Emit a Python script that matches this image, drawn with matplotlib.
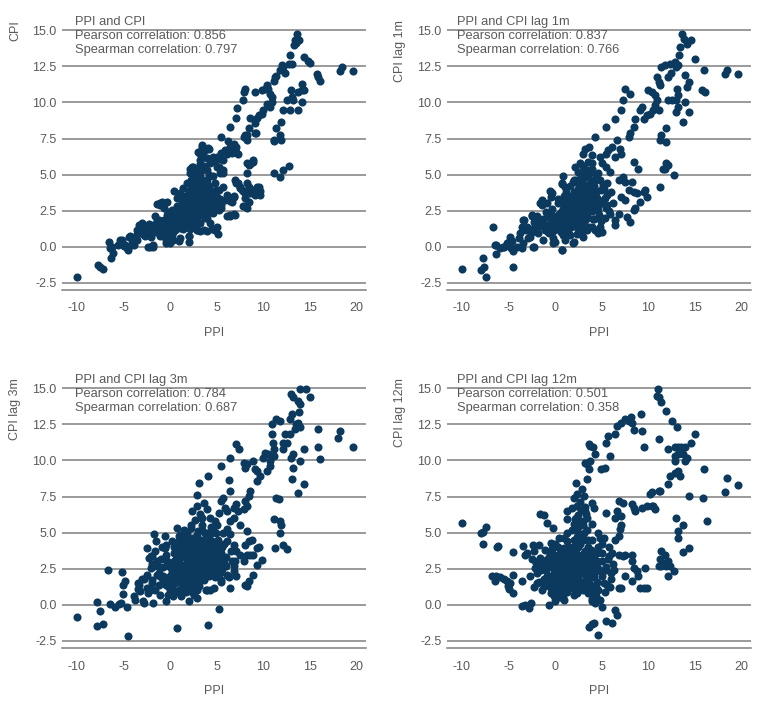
import matplotlib
matplotlib.use("Agg")
import matplotlib.pyplot as plt

# PPI vs CPI
pts_cpi = [
    (-10, -2.1), (-7.75, -1.27), (-7.5, -1.4), (-7.25, -1.57),
    (-6.6, 0.36), (-6.4, -0.1), (-6.25, 0.0), (-6.1, -0.45), (-6.35, -0.76),
    (-5.6, 0.1), (-5.4, 0.48), (-5.2, 0.45), (-4.9, 0.05), (-4.8, 0.13), (-4.6, -0.1),
    (-4.5, -0.25), (-4.4, 0.65), (-4.3, 0.71), (-4.2, 0.1), (-4.1, 0.48), (-3.9, 0.13),
    (-3.6, 1.17), (-3.6, 0.48), (-3.6, 0.9), (-3.3, 1.5), (-3.2, 0.94), (-3.0, 1.27), (-3.0, 1.63),
    (-2.9, 1.4), (-2.8, 0.8), (-2.7, 0.71), (-2.5, 1.15), (-2.5, 0.94), (-2.4, 0.0), (-2.3, 1.6),
    (-2.15, 1.17), (-2.15, 0.0), (-2.1, 0.7), (-1.9, 1.27), (-1.8, 1.52), (-1.8, 0.13),
    (-1.8, 0.0), (-1.6, 2.1), (-1.6, 1.17), (-1.4, 2.95), (-1.4, 1.86), (-1.25, 1.85),
    (-1.25, 1.52), (-1.1, 2.9), (-1.1, 3.0), (-1.1, 0.71), (-0.9, 3.1), (-0.9, 1.17),
    (-0.7, 1.15), (-0.7, 2.67), (-0.7, 1.86), (-0.5, 0.7), (-0.5, 0.25), (-0.5, 0.48),
    (-0.36, 3.13), (-0.36, 1.63), (-0.36, 1.06), (-0.2, 0.35), (-0.2, 2.44), (0.0, 0.25),
    (0.0, 1.4), (0.18, 1.98), (0.2, 0.5), (0.2, 0.83), (0.2, 2.56), (0.35, 0.45),
    (0.36, 3.83), (0.5, 1.17), (0.5, 1.86), (0.7, 2.79), (0.7, 3.36), (0.9, 0.4),
    (0.9, 2.33), (1.1, 0.6), (1.1, 3.7), (1.1, 1.98), (1.1, 1.29), (1.25, 3.0),
    (1.4, 4.06), (1.4, 1.86), (1.6, 3.48), (1.6, 2.2), (1.6, 1.4), (1.8, 4.4), (1.8, 2.56),
    (2.0, 0.35), (2.0, 0.75), (2.0, 0.71), (2.0, 2.79), (2.0, 3.83), (2.1, 5.4), (2.1, 5.1),
    (2.1, 1.63), (2.1, 3.36), (2.3, 5.56), (2.3, 2.9), (2.5, 5.5), (2.5, 2.1), (2.5, 3.94),
    (2.5, 4.6), (2.5, 1.86), (2.7, 5.2), (2.7, 2.67), (2.85, 1.17), (2.85, 3.48), (2.9, 1.15),
    (2.9, 5.1), (3.0, 6.6), (3.0, 2.2), (3.2, 1.1), (3.2, 6.45), (3.2, 6.0), (3.2, 4.87),
    (3.2, 1.63), (3.2, 4.4), (3.2, 3.13), (3.2, 2.44), (3.2, 5.75), (3.4, 7.06), (3.4, 6.9),
    (3.6, 1.15), (3.6, 6.2), (3.6, 2.56), (3.6, 3.94), (3.6, 3.36), (3.75, 6.7), (3.9, 1.1),
    (3.9, 6.14), (3.9, 4.6), (3.9, 3.0), (3.9, 3.71), (3.9, 2.0), (3.9, 5.3), (4.1, 6.83),
    (4.2, 6.8), (4.3, 5.79), (4.3, 6.0), (4.3, 1.63), (4.3, 3.25), (4.3, 3.94), (4.3, 2.56),
    (4.5, 1.2), (4.6, 4.87), (4.6, 6.2), (4.6, 2.33), (4.6, 3.71), (4.8, 1.15), (4.8, 5.9),
    (4.8, 4.4), (4.8, 1.17), (4.8, 2.9), (5.0, 1.4), (5.0, 6.25), (5.0, 5.5), (5.0, 3.48),
    (5.1, 0.9), (5.2, 5.56), (5.2, 3.94), (5.2, 2.56), (5.35, 5.1), (5.4, 6.1), (5.4, 5.3),
    (5.5, 7.64), (5.5, 6.48), (5.5, 2.9), (5.7, 5.33), (5.7, 6.0), (5.7, 4.17), (5.7, 5.1),
    (5.9, 6.7), (5.9, 3.25), (6.1, 6.45), (6.1, 2.1), (6.1, 3.6), (6.25, 7.3), (6.4, 8.3),
    (6.4, 6.9), (6.4, 6.6), (6.4, 2.2), (6.4, 3.2), (6.4, 2.1), (6.6, 6.48), (6.6, 3.1),
    (6.8, 7.06), (6.8, 7.15), (6.8, 2.3), (6.8, 3.5), (6.8, 3.48), (6.8, 6.6), (7.0, 4.6),
    (7.0, 2.2), (7.1, 8.9), (7.1, 6.6), (7.1, 6.9), (7.1, 4.4), (7.2, 9.6), (7.3, 6.45),
    (7.3, 4.4), (7.5, 4.15), (7.5, 4.06), (7.7, 3.9), (7.8, 10.2), (7.85, 3.83), (7.85, 2.8),
    (7.9, 10.7), (7.9, 7.6), (7.9, 3.8), (8.0, 10.9), (8.0, 7.75), (8.0, 2.8), (8.0, 3.35),
    (8.2, 7.4), (8.2, 2.65), (8.2, 5.1), (8.2, 4.4), (8.2, 5.79), (8.2, 7.75), (8.4, 8.2),
    (8.4, 4.15), (8.4, 5.65), (8.5, 3.1), (8.6, 8.9), (8.6, 3.7), (8.6, 5.75), (8.75, 3.9),
    (8.9, 3.7), (8.9, 6.0), (8.9, 5.9), (9.1, 8.55), (9.1, 3.6), (9.1, 10.7), (9.1, 7.87),
    (9.2, 7.85), (9.3, 8.9), (9.3, 3.9), (9.3, 4.17), (9.5, 9.1), (9.5, 4.15), (9.6, 3.6),
    (9.6, 3.83), (9.8, 9.2), (9.8, 10.85), (10.0, 9.45), (10.2, 10.95), (10.4, 11.2),
    (10.4, 9.9), (10.5, 10.95), (10.7, 10.6), (10.7, 9.7), (10.9, 10.4), (10.9, 10.05),
    (11.1, 11.5), (11.1, 5.1), (11.1, 7.4), (11.1, 7.3), (11.25, 11.75), (11.4, 11.8),
    (11.4, 8.2), (11.8, 12.25), (11.8, 4.85), (11.8, 7.75), (11.9, 8.65), (11.9, 7.4),
    (12.0, 12.6), (12.1, 12.45), (12.1, 5.3), (12.1, 9.45), (12.3, 12.05), (12.5, 10.15),
    (12.7, 12.7), (12.7, 5.6), (12.9, 13.3), (12.9, 9.45), (13.0, 10.85), (13.1, 12.7),
    (13.1, 10.4), (13.2, 10.15), (13.3, 14.0), (13.4, 14.3), (13.5, 14.1), (13.6, 14.75),
    (13.75, 10.75), (13.75, 9.45), (13.8, 14.35), (14.1, 11.3), (14.1, 10.85), (14.1, 10.05),
    (14.4, 13.15), (14.4, 10.85), (14.8, 12.9), (15.0, 12.75), (15.7, 12.0), (15.9, 11.75),
    (16.1, 11.5), (18.2, 12.2), (18.4, 12.45), (19.6, 12.2),
    # dense core
    (1.0, 2.0), (1.5, 2.3), (2.0, 2.0), (2.5, 2.4), (3.0, 2.7), (3.5, 3.0), (4.0, 3.3),
    (1.2, 2.8), (1.8, 3.1), (2.4, 3.4), (3.0, 3.6), (3.6, 3.9), (4.2, 4.2), (0.5, 1.6),
    (1.0, 1.4), (1.6, 1.7), (2.2, 1.5), (2.8, 1.9), (3.4, 2.2), (4.0, 2.5), (4.6, 2.8),
    (0.0, 1.9), (0.4, 2.3), (0.8, 2.6), (1.4, 3.5), (2.0, 3.8), (2.6, 4.2), (3.2, 4.0),
    (3.8, 4.6), (2.2, 4.6), (2.8, 5.0), (3.4, 5.3), (2.6, 2.9), (3.2, 3.3), (1.7, 2.6),
    (2.3, 2.7), (3.8, 3.6), (4.4, 3.8), (-0.5, 1.5), (-1.0, 1.2), (-1.5, 1.0), (-0.3, 2.2),
    (0.2, 1.2), (4.5, 3.3), (5.0, 3.0), (5.4, 2.7), (4.9, 3.9), (2.9, 3.1),
    (0.3, 1.0), (0.7, 1.3), (1.3, 1.8), (1.9, 2.3), (2.4, 2.1), (2.7, 3.0), (3.3, 2.8),
    (3.7, 3.4), (4.1, 3.0), (4.4, 2.4), (2.0, 3.3), (1.6, 3.0), (2.8, 3.5), (3.3, 3.8),
    (3.0, 4.3), (2.4, 4.1), (1.9, 3.6), (1.2, 2.4), (0.6, 2.0), (-0.1, 1.6), (3.5, 4.4),
    (4.0, 4.0), (4.7, 3.5), (5.3, 3.3), (3.7, 2.0), (3.0, 1.7), (2.1, 1.2), (1.4, 1.2),
    (4.2, 5.0), (3.6, 5.6), (2.9, 5.4), (-1.3, 1.4), (-2.0, 1.0), (-0.8, 0.9),
    (1.5, 2.7), (2.1, 2.6), (2.6, 3.3), (3.1, 3.0), (3.5, 3.6), (4.2, 3.6), (1.1, 2.2),
    (1.8, 1.9), (2.6, 1.6), (3.3, 2.4), (4.1, 2.7), (2.2, 4.3), (2.9, 4.6), (0.8, 1.8),
    (-0.2, 1.2),
]

# PPI vs CPI lagged 1 month
pts_lag1 = [
    (-10, -1.55), (-7.75, -0.8), (-7.96, -1.6), (-7.6, -1.4), (-7.4, -2.12),
    (-6.7, 1.38), (-6.4, 0.12), (-6.35, -0.5), (-5.9, -0.1), (-5.5, 0.0), (-5.2, 0.23),
    (-4.8, 0.65), (-4.6, 0.4), (-4.7, -0.1), (-4.55, -0.28), (-4.5, -1.38), (-4.1, 0.0),
    (-3.75, 0.92), (-3.6, 1.38), (-3.3, 1.85), (-3.5, 0.23), (-3.6, -0.1), (-2.9, 1.15),
    (-2.7, 0.7), (-2.5, 2.2), (-2.3, 1.73), (-2.25, 0.0), (-1.85, 1.85), (-1.8, 0.92),
    (-1.6, 3.0), (-1.4, 3.23), (-0.9, 3.0), (-1.25, 1.38), (-1.1, 1.15), (-0.7, 0.92),
    (-0.5, 3.8), (-0.36, 3.7), (-0.2, 0.58), (0.0, 0.35), (0.7, -0.23), (1.1, 0.46),
    (2.0, 0.35), (1.6, 1.38), (0.7, 4.38), (1.1, 4.15), (-3.0, 1.4), (-2.0, 1.3),
    (-1.5, 1.6), (-0.5, 1.3), (-3.9, 0.6), (-2.6, 1.2), (-1.9, 2.1), (-0.8, 2.3),
    (-6.3, 0.13), (-5.6, 0.0), (-4.85, 0.48), (-3.4, 1.86), (-3.1, 1.17), (-2.5, 2.1),
    (-1.45, 2.9), (-0.6, 3.83), (-0.4, 3.48), (0.68, 4.4), (0.86, 4.87), (-2.36, 0.0),
    (0.68, -0.2), (1.9, 0.25), (-1.3, 0.48), (-0.2, 0.25),
    (2.7, 1.15), (3.0, 0.7), (3.4, 1.15), (3.9, 1.38), (4.3, 1.15), (4.8, 1.38), (5.0, 1.04),
    (4.6, 0.92), (5.9, 2.3), (6.4, 1.85), (6.8, 2.3), (6.4, 1.5), (7.1, 3.46), (7.5, 3.23),
    (7.7, 2.08), (8.0, 1.73), (8.4, 2.54), (8.6, 2.65), (8.4, 3.8), (7.9, 3.92), (7.5, 4.5),
    (6.8, 4.6), (7.3, 4.85), (8.2, 4.5), (8.4, 5.88), (8.9, 5.42), (8.75, 3.7), (9.1, 3.12),
    (9.5, 3.8), (9.6, 3.92), (9.8, 3.46), (11.25, 4.15), (11.8, 5.42), (12.1, 5.65),
    (11.9, 5.77), (12.7, 4.96), (11.6, 5.42),
    (5.5, 8.3), (6.4, 8.88), (7.1, 9.46), (7.3, 10.15), (7.5, 10.9), (8.0, 10.6), (7.9, 7.6),
    (8.0, 7.85), (8.4, 8.3), (8.6, 8.88), (9.1, 9.46), (9.3, 9.7), (9.5, 8.88), (9.8, 9.1),
    (10.2, 9.23), (10.5, 9.46), (10.0, 10.85), (10.4, 10.73), (10.7, 10.5), (10.9, 10.15),
    (10.7, 9.8), (11.1, 9.46), (10.9, 11.77), (11.1, 11.42), (11.25, 11.2), (11.4, 12.46),
    (11.8, 12.58), (12.1, 11.77), (12.3, 12.7), (12.4, 12.05), (12.9, 12.8), (13.0, 12.46),
    (13.3, 13.27), (13.4, 13.85), (13.6, 14.77), (13.8, 14.42), (14.1, 14.07), (14.6, 14.3),
    (15.0, 13.0), (13.2, 12.58), (13.9, 11.88), (14.3, 11.42), (14.1, 11.1), (13.1, 10.96),
    (13.2, 10.5), (13.0, 10.15), (13.2, 9.7), (13.0, 9.35), (13.9, 10.04), (14.3, 9.35),
    (13.75, 8.65), (12.1, 10.15), (12.5, 10.15), (11.9, 8.2), (11.4, 7.73), (11.25, 7.38),
    (11.9, 7.27), (16.0, 12.23), (15.7, 10.85), (16.1, 10.73), (18.2, 12.0), (18.4, 12.23),
    (19.6, 12.0),
    (4.3, 7.6), (3.2, 6.8), (3.6, 6.92), (3.0, 6.46), (3.9, 6.35), (4.8, 6.23), (5.4, 6.46),
    (5.7, 6.7), (6.1, 6.92), (6.6, 7.38), (6.9, 6.8), (7.1, 6.46), (6.4, 6.23), (5.0, 5.77),
    (5.5, 5.54), (5.9, 5.2), (4.6, 5.08), (3.9, 5.77), (2.1, 5.54), (2.7, 5.77), (3.2, 5.3),
    # dense core
    (1.0, 2.0), (1.5, 2.3), (2.0, 2.0), (2.5, 2.4), (3.0, 2.7), (3.5, 3.0), (4.0, 3.3),
    (1.2, 2.8), (1.8, 3.1), (2.4, 3.4), (3.0, 3.6), (3.6, 3.9), (4.2, 4.2), (0.5, 1.6),
    (1.0, 1.4), (1.6, 1.7), (2.2, 1.5), (2.8, 1.9), (3.4, 2.2), (4.0, 2.5), (4.6, 2.8),
    (0.0, 1.9), (0.4, 2.3), (0.8, 2.6), (1.4, 3.5), (2.0, 3.8), (2.6, 4.2), (3.2, 4.0),
    (3.8, 4.6), (2.2, 4.6), (2.8, 5.0), (3.4, 5.3), (2.6, 2.9), (3.2, 3.3), (1.7, 2.6),
    (2.3, 2.7), (3.8, 3.6), (4.4, 3.8), (-0.5, 1.8), (-1.0, 1.5), (-0.3, 2.2), (0.2, 1.2),
    (4.5, 3.3), (5.0, 3.0), (5.4, 2.7), (4.9, 3.9), (2.9, 3.1), (5.3, 3.4), (5.6, 2.9),
    (0.6, 1.0), (1.3, 1.0), (2.5, 1.2), (1.9, 4.5), (2.9, 4.5), (3.5, 4.8), (0.3, 3.0),
    (5.1, 4.3), (4.1, 1.9), (0.9, 3.3), (1.6, 0.8), (-0.2, 1.1), (3.1, 1.6), (4.7, 2.2),
    (0.5, 1.3), (0.9, 1.8), (1.3, 2.2), (1.7, 1.4), (2.1, 2.1), (2.5, 1.7), (2.9, 2.3),
    (3.3, 1.9), (3.7, 2.6), (4.1, 2.9), (4.5, 3.4), (0.2, 2.0), (0.6, 2.4), (1.0, 2.9),
    (1.4, 3.1), (1.8, 3.4), (2.2, 3.0), (2.6, 3.6), (3.0, 3.2), (3.4, 3.8), (3.8, 4.2),
    (4.2, 4.5), (1.2, 3.8), (1.6, 4.2), (2.0, 4.6), (2.4, 4.0), (2.8, 4.4), (3.2, 4.8),
    (3.6, 5.1), (2.5, 5.2), (3.0, 5.6), (3.5, 5.9), (4.0, 5.4), (4.4, 5.0), (4.8, 4.6),
    (5.2, 4.0), (5.6, 3.6), (5.0, 3.2), (4.6, 2.5), (4.2, 1.9), (3.6, 1.4), (3.0, 1.1),
    (2.3, 0.9), (1.5, 0.9), (0.8, 0.8), (-0.1, 1.5), (-0.6, 2.0), (-1.0, 2.4), (-0.3, 2.6),
    (0.3, 3.3), (-1.3, 1.9), (-2.0, 1.6), (-2.5, 1.0), (-2.9, 0.6), (-3.3, 1.2), (-0.8, 1.0),
    (5.6, 4.4), (6.0, 3.8), (6.2, 3.0), (5.8, 2.5), (5.3, 2.0), (4.9, 1.8), (1.9, 2.7),
    (2.7, 2.7), (3.5, 3.3), (1.1, 2.5), (2.3, 3.7), (3.1, 4.1), (4.3, 3.9), (3.9, 3.0),
    (2.7, 2.0), (1.5, 2.6), (2.1, 2.4), (2.7, 3.2), (3.3, 2.6), (3.9, 3.6), (1.2, 1.7),
    (2.4, 2.2), (3.0, 1.5), (1.8, 2.0), (2.0, 3.1), (2.6, 3.9), (3.4, 4.3), (4.0, 3.7),
    (0.4, 1.7), (-0.4, 1.6), (1.0, 3.5),
]

# PPI vs CPI lagged 3 months
pts_lag3 = [
    (-10, -0.86), (-7.86, 0.19), (-7.57, -0.46), (-7.86, -1.5), (-7.25, -1.34),
    (-6.7, 2.43), (-6.4, 0.05), (-5.9, -0.19), (-5.5, 0.05), (-5.3, 0.12), (-5.2, 2.27),
    (-5.1, 1.39), (-5.1, 0.74), (-4.8, 1.62), (-4.6, -0.16), (-4.5, -2.2), (-3.9, 0.58),
    (-3.75, 0.35), (-3.5, 1.51), (-3.2, 0.93), (-2.9, 0.23), (-2.8, 0.12), (-2.5, 3.94),
    (-2.3, 3.25), (-2.5, 2.09), (-2.5, 1.16), (-2.1, 2.55), (-1.8, 0.12), (-1.7, 4.87),
    (-1.5, 4.4), (-1.6, 3.7), (-1.4, 3.01), (-1.4, 2.09), (-1.25, 1.39), (-1.1, 0.7),
    (-0.6, 4.75), (-0.4, 4.17), (-0.5, 3.48), (-0.45, 0.23), (-0.2, 0.7), (0.7, 5.33),
    (0.9, 4.75), (0.7, -1.58), (2.0, 0.23), (2.1, 1.16), (2.9, 0.46), (2.9, 1.04),
    (3.1, 8.46), (2.9, 7.6), (4.1, 8.93), (4.1, -1.44), (5.2, -0.28), (3.9, 1.04),
    (4.3, 1.04), (4.7, 1.16), (5.4, 1.74), (6.4, 1.16), (5.5, 9.62), (6.4, 10.2),
    (6.3, 8.62), (6.4, 7.88), (-3.0, 1.8), (-2.0, 1.5), (-1.0, 1.9), (-0.8, 2.6),
    (-2.2, 1.0), (-3.4, 1.1), (-1.9, 3.4), (-0.9, 4.0),
    (2.3, 6.49), (2.9, 6.84), (3.2, 6.26), (3.6, 7.07), (3.9, 6.61), (3.4, 6.03),
    (4.3, 6.03), (4.8, 5.8), (5.4, 7.19), (5.7, 7.42), (5.9, 6.72), (6.1, 6.49), (6.4, 5.8),
    (6.8, 6.72), (7.1, 6.96), (7.3, 6.49), (6.8, 6.03), (7.5, 5.56), (6.1, 5.22), (6.4, 4.87),
    (5.7, 4.98), (5.0, 5.56), (4.6, 5.33), (5.2, 6.38),
    (7.1, 11.13), (7.4, 10.78), (7.9, 9.85), (8.2, 9.74), (8.0, 9.5), (9.1, 9.39), (9.3, 9.27),
    (8.9, 9.97), (9.3, 8.58), (9.6, 8.93), (8.6, 7.88), (8.4, 7.54), (8.0, 7.19), (8.2, 6.84),
    (7.9, 6.61), (10.0, 10.2), (10.2, 10.55), (10.5, 10.43), (10.7, 9.97), (10.7, 9.62),
    (10.4, 9.27), (10.9, 12.52), (10.9, 11.82), (11.0, 11.24), (11.1, 10.78), (11.1, 10.32),
    (11.4, 12.87), (11.8, 12.75), (12.3, 11.82), (12.1, 11.24), (12.1, 10.78), (12.5, 11.24),
    (12.9, 12.87), (13.1, 13.22), (13.5, 12.52), (13.75, 12.63), (13.9, 12.29), (13.4, 12.17),
    (12.9, 11.82), (13.0, 14.61), (13.2, 14.38), (13.75, 14.14), (13.9, 13.91), (13.9, 14.95),
    (14.6, 14.95), (15.0, 14.38), (13.8, 13.33), (13.2, 10.43), (13.0, 10.2), (13.9, 9.97),
    (13.2, 9.5), (13.1, 8.7), (13.75, 7.77), (14.3, 8.35), (14.3, 10.78), (15.9, 12.17),
    (15.9, 10.9), (16.1, 10.09), (18.0, 11.59), (18.2, 12.06), (19.6, 10.9),
    (11.1, 5.91), (11.25, 3.94), (11.4, 7.42), (11.7, 7.3), (11.8, 5.8), (11.9, 5.56),
    (11.8, 4.98), (12.1, 4.17), (12.5, 3.83),
    (6.8, 4.17), (7.1, 3.7), (7.5, 3.48), (7.9, 3.01), (8.2, 5.1), (8.4, 4.4), (8.75, 4.52),
    (8.0, 4.17), (8.2, 3.48), (8.6, 3.48), (8.9, 3.48), (9.3, 3.94), (9.5, 3.99), (9.8, 3.13),
    (9.3, 2.78), (8.9, 2.09), (8.4, 1.62), (8.0, 1.39), (8.2, 1.28), (7.1, 1.97), (6.8, 2.32),
    (6.1, 2.09),
    # dense core
    (0.0, 1.0), (0.5, 1.5), (1.0, 2.0), (1.5, 2.5), (2.0, 3.0), (2.5, 3.5), (3.0, 4.0),
    (3.5, 4.5), (4.0, 5.0), (0.0, 2.0), (0.5, 2.6), (1.0, 3.1), (1.5, 3.6), (2.0, 4.1),
    (2.5, 4.6), (3.0, 5.1), (1.0, 1.0), (1.5, 1.4), (2.0, 1.9), (2.5, 2.4), (3.0, 2.9),
    (3.5, 3.4), (4.0, 3.9), (4.5, 4.4), (2.0, 1.0), (2.5, 1.5), (3.0, 2.0), (3.5, 2.5),
    (4.0, 3.0), (4.5, 3.5), (5.0, 4.0), (3.0, 1.4), (3.5, 1.8), (4.0, 2.2), (4.5, 2.7),
    (5.0, 3.1), (5.5, 3.6), (6.0, 3.3), (5.6, 2.5), (4.8, 1.9), (-0.5, 1.4), (-0.8, 2.0),
    (-1.2, 2.6), (-0.3, 3.0), (0.4, 3.6), (0.9, 4.1), (1.4, 4.6), (2.2, 5.3), (1.8, 5.0),
    (3.4, 5.5), (4.4, 5.0), (0.3, 0.6), (1.2, 0.6), (1.7, 0.9), (-1.6, 1.0), (-2.0, 2.8),
    (6.6, 3.0), (5.8, 4.2), (3.8, 1.0), (2.6, 0.7), (0.2, 4.4), (-0.1, 1.7), (1.3, 1.8),
    (2.8, 3.2), (3.7, 3.8), (4.6, 2.3), (1.9, 2.4), (2.4, 2.0), (3.2, 3.4), (4.2, 4.6),
    (-0.2, 1.3), (0.3, 1.9), (0.8, 2.4), (1.2, 1.7), (1.6, 2.2), (2.0, 1.4), (2.4, 2.7),
    (2.8, 2.1), (3.2, 2.6), (3.6, 3.1), (4.0, 2.6), (4.4, 3.0), (4.8, 3.4), (5.2, 2.9),
    (5.6, 3.3), (6.0, 2.7), (0.0, 2.6), (0.6, 3.2), (1.1, 2.8), (1.6, 3.3), (2.1, 3.7),
    (2.6, 3.2), (3.1, 3.7), (3.6, 4.1), (4.1, 3.6), (4.6, 4.1), (5.1, 4.5), (5.6, 4.0),
    (6.1, 4.4), (0.4, 4.0), (0.9, 4.4), (1.4, 4.1), (1.9, 4.7), (2.4, 4.3), (2.9, 4.8),
    (3.4, 5.2), (3.9, 4.6), (4.4, 5.4), (4.9, 5.0), (2.2, 5.5), (2.7, 5.9), (3.3, 6.0),
    (1.5, 5.2), (0.2, 1.2), (0.7, 0.9), (1.4, 1.1), (2.3, 0.9), (3.1, 1.3), (3.6, 1.7),
    (4.2, 2.0), (4.9, 2.2), (5.4, 1.6), (6.3, 1.9), (-0.8, 1.6), (-1.2, 2.2), (-1.7, 2.7),
    (-2.1, 3.4), (-1.0, 3.2), (-0.6, 3.9), (-2.8, 1.8), (-3.3, 1.4), (-2.4, 0.8), (-1.9, 1.7),
    (6.5, 3.7), (7.0, 3.0), (6.8, 2.7), (1.0, 3.6), (2.0, 2.6), (3.0, 2.9), (4.0, 4.0),
    (5.0, 3.8), (2.5, 1.8), (3.5, 2.3), (1.8, 1.9),
    (0.2, 2.3), (0.7, 2.0), (1.2, 2.3), (1.7, 2.8), (2.2, 2.2), (2.7, 2.6), (3.2, 2.1),
    (3.7, 2.7), (4.2, 3.2), (4.7, 2.9), (5.2, 3.3), (0.4, 3.0), (0.9, 3.4), (1.4, 3.9),
    (1.9, 3.3), (2.4, 3.9), (2.9, 3.5), (3.4, 4.0), (3.9, 3.4), (4.4, 3.8), (4.9, 4.3),
    (5.4, 3.9), (1.3, 1.3), (1.8, 1.6), (2.3, 1.3), (2.8, 1.6), (3.3, 1.8), (3.8, 2.2),
    (4.3, 2.4), (4.8, 2.6), (5.3, 2.2), (5.8, 2.9), (0.6, 4.2), (1.1, 4.8), (1.7, 4.4),
    (2.2, 4.0), (2.7, 4.4), (3.2, 4.5), (3.7, 5.0), (4.2, 4.3),
]

# PPI vs CPI lagged 12 months
pts_lag12 = [
    (-10, 5.68), (-8.0, 4.98), (-7.75, 5.05), (-7.4, 5.38), (-7.7, 4.22), (-6.25, 3.99),
    (-6.1, 4.06), (-6.8, 2.02), (-6.4, 1.62), (-6.35, 1.97), (-5.9, 1.9), (-5.5, 1.81),
    (-5.2, 1.62), (-5.1, 1.28), (-4.9, 1.11), (-4.8, 1.51), (-4.5, 2.09), (-4.5, 0.81),
    (-4.5, 3.66), (-3.6, 1.62), (-3.6, -0.07), (-3.5, 4.06), (-3.2, 3.48), (-3.2, -0.05),
    (-2.8, -0.23), (-2.6, 0.12), (-2.7, 1.97), (-2.5, 3.2), (-2.4, 4.17), (-2.3, 3.71),
    (-2.2, 2.55), (-2.0, 1.51), (-1.7, 4.17), (-1.6, 3.25), (-1.6, 6.31), (-1.25, 6.21),
    (-0.9, 5.68), (-0.7, -0.05), (-0.2, 5.33), (-0.5, 4.29), (-0.36, 3.83), (-3.0, 3.6),
    (-1.9, 2.2), (-1.2, 1.3), (-1.4, 2.8), (-2.3, 1.2),
    (0.0, 0.23), (0.5, 0.51), (1.25, 5.91), (1.25, 6.49), (1.8, 6.72), (2.0, 7.42),
    (2.2, 8.46), (2.3, 7.65), (2.9, 8.0), (3.1, 7.54), (2.3, 6.84), (3.2, 6.49), (2.1, 5.91),
    (3.2, 9.85), (3.4, 9.74), (3.6, 11.13), (3.75, 11.0), (3.75, 9.97), (3.6, 9.39), (3.4, 8.7),
    (4.1, 10.9), (4.3, 10.43), (3.9, 7.07), (4.2, 6.72), (4.9, 9.39), (5.3, 9.5), (5.9, 10.32),
    (5.4, 11.24), (5.7, 11.71), (6.4, 11.82), (6.6, 12.4), (7.1, 12.63), (7.5, 12.87),
    (7.9, 12.75), (8.1, 12.98), (8.2, 12.63), (8.4, 12.1), (9.3, 12.06), (9.2, 13.22),
    (9.5, 10.9), (11.0, 14.95), (10.9, 14.49), (11.1, 14.42), (11.4, 14.03), (11.9, 13.45),
    (12.5, 12.75), (13.1, 12.29), (11.1, 11.48), (12.1, 10.78), (12.9, 10.9), (13.2, 10.9),
    (13.5, 10.9), (13.9, 10.9), (13.2, 10.43), (13.75, 10.43), (12.8, 10.32), (12.9, 9.97),
    (13.9, 9.97), (14.1, 10.2), (14.6, 11.24), (15.0, 11.82), (12.3, 8.93), (12.9, 9.16),
    (13.2, 9.27), (13.4, 8.93), (12.1, 8.35), (11.25, 7.88), (13.0, 6.03), (13.2, 5.1),
    (13.2, 4.64), (13.75, 5.56), (14.3, 7.54), (14.3, 3.94), (13.75, 3.64), (16.0, 9.39),
    (15.9, 7.42), (16.25, 5.8), (18.2, 7.84), (18.4, 8.76), (19.6, 8.3),
    (7.3, 7.07), (8.2, 6.96), (8.4, 6.72), (8.6, 6.49), (9.3, 6.72), (9.8, 6.84), (10.4, 6.84),
    (10.2, 7.65), (10.4, 7.84), (10.5, 6.84), (10.7, 6.61), (11.1, 7.88), (6.8, 7.19),
    (6.6, 6.49), (7.1, 6.14), (7.1, 5.56), (6.9, 5.22), (6.8, 4.75), (6.4, 4.52), (6.4, 6.03),
    (5.5, 6.38),
    (6.8, 3.48), (7.3, 3.36), (7.5, 3.48), (8.2, 3.48), (8.2, 3.01), (8.4, 2.55), (8.75, 2.32),
    (8.9, 1.97), (8.2, 1.62), (7.5, 1.97), (7.1, 1.16), (6.8, 1.16), (9.6, 2.55), (9.5, 1.16),
    (9.8, 1.16), (9.1, 1.16), (11.4, 3.71), (11.25, 3.2), (11.8, 3.48), (11.6, 2.9),
    (12.1, 3.01), (12.1, 1.97), (12.7, 2.32), (11.1, 2.67), (11.4, 2.67), (11.9, 2.67),
    (12.3, 2.67),
    (3.6, -1.51), (3.9, -1.34), (4.2, -1.28), (4.6, -2.09), (5.0, -0.16), (5.5, -1.16),
    (6.4, -0.35), (6.6, -0.7), (6.1, -1.28), (3.9, 0.23), (4.3, 0.12), (4.8, 0.35),
    # dense core
    (0.0, 1.5), (0.5, 2.0), (1.0, 2.5), (1.5, 3.0), (2.0, 3.5), (2.5, 4.0), (3.0, 4.5),
    (0.0, 2.5), (0.5, 3.0), (1.0, 3.5), (1.5, 4.0), (2.0, 4.5), (2.5, 5.0), (3.0, 5.5),
    (0.0, 3.4), (0.5, 1.0), (1.0, 1.5), (1.5, 2.0), (2.0, 2.5), (2.5, 3.0), (3.0, 3.5),
    (3.5, 4.0), (4.0, 4.5), (1.0, 0.8), (1.5, 1.2), (2.0, 1.6), (2.5, 2.0), (3.0, 2.4),
    (3.5, 2.8), (4.0, 3.2), (4.5, 3.6), (2.5, 1.0), (3.0, 1.4), (3.5, 1.8), (4.0, 2.2),
    (4.5, 2.6), (5.0, 3.0), (3.5, 0.8), (4.0, 1.2), (4.5, 1.6), (5.0, 2.0), (5.5, 2.4),
    (-0.5, 2.0), (-0.5, 3.0), (-1.0, 2.4), (-0.8, 1.6), (-0.3, 1.0), (0.3, 4.0), (1.0, 4.6),
    (1.8, 5.2), (2.6, 5.8), (3.4, 6.0), (4.0, 5.6), (4.6, 5.0), (5.0, 4.2), (5.8, 3.4),
    (6.0, 2.2), (5.6, 1.4), (4.4, 0.6), (2.0, 0.7), (0.8, 0.5), (1.3, 5.0), (2.8, 3.2),
    (1.7, 2.7), (0.7, 2.2), (3.7, 3.4), (4.8, 4.6), (3.3, 2.0), (2.2, 1.2),
    (-1.2, 1.8), (-0.8, 2.6), (-0.4, 1.4), (-0.1, 2.2), (0.3, 1.7), (0.6, 2.8), (0.9, 1.2),
    (1.2, 2.2), (1.5, 3.2), (1.8, 1.5), (2.1, 2.8), (2.4, 1.8), (2.7, 3.4), (3.0, 2.2),
    (3.3, 2.9), (3.6, 1.5), (3.9, 2.6), (4.2, 1.9), (4.5, 3.0), (4.8, 2.4), (-1.0, 3.1),
    (-0.6, 3.6), (-0.2, 3.0), (0.2, 2.5), (0.5, 3.6), (0.8, 2.0), (1.1, 3.0), (1.4, 1.7),
    (1.7, 2.5), (2.0, 2.0), (2.3, 3.1), (2.6, 2.5), (2.9, 1.6), (3.2, 3.7), (3.5, 2.4),
    (3.8, 3.3), (4.1, 2.7), (4.4, 1.4), (-1.5, 2.4), (-1.8, 3.0), (0.0, 4.2), (0.4, 4.6),
    (0.9, 3.9), (1.3, 4.4), (1.9, 4.0), (2.3, 4.7), (2.7, 4.2), (3.1, 5.0), (3.5, 4.5),
    (2.0, 5.6), (2.5, 6.2), (3.0, 5.8), (2.8, 6.6), (3.3, 6.3), (2.2, 6.0), (-0.5, 0.8),
    (0.1, 1.0), (0.7, 0.6), (1.3, 0.9), (2.0, 1.1), (2.6, 1.0), (3.2, 1.2), (3.9, 0.9),
    (4.6, 1.0), (5.2, 1.5), (5.4, 2.6), (5.7, 3.2), (5.0, 3.6), (4.6, 4.0), (1.0, 1.6),
    (1.6, 2.9), (2.8, 2.7), (3.4, 1.9), (0.3, 3.3), (-0.3, 1.9), (4.3, 3.5), (6.2, 2.8),
    (6.0, 1.8), (5.8, 4.0),
    (-0.9, 2.0), (-0.6, 1.2), (-0.3, 2.6), (0.0, 1.8), (0.4, 2.2), (0.7, 1.5), (1.0, 2.0),
    (1.3, 2.6), (1.6, 1.2), (1.9, 2.2), (2.2, 2.6), (2.5, 1.4), (2.8, 2.2), (3.1, 2.8),
    (3.4, 1.4), (3.7, 2.1), (4.0, 2.9), (4.3, 2.3), (-0.7, 3.3), (-0.2, 3.5), (0.2, 2.9),
    (0.6, 3.3), (1.0, 2.7), (1.4, 3.5), (1.8, 3.1), (2.2, 3.6), (2.6, 3.0), (3.0, 3.2),
    (3.4, 3.4), (3.8, 3.8), (4.2, 3.1), (0.4, 1.3), (1.2, 1.0), (2.3, 0.8), (3.0, 1.0),
    (3.7, 1.2), (4.2, 0.8), (1.5, 3.8), (2.5, 4.4), (3.4, 5.2), (2.9, 4.8), (2.4, 5.4),
    (3.2, 6.8), (2.7, 7.1),
    (-1.4, 1.0), (-1.7, 1.6), (-2.1, 2.9), (-1.1, 3.8), (5.3, 0.9), (5.9, 1.2), (6.3, 2.4),
    (6.1, 3.6), (5.2, 4.6), (-0.1, 0.6), (0.9, 0.3), (4.0, 0.4),
]

panels = [
    (pts_cpi, "CPI", "PPI and CPI", "0.856", "0.797"),
    (pts_lag1, "CPI lag 1m", "PPI and CPI lag 1m", "0.837", "0.766"),
    (pts_lag3, "CPI lag 3m", "PPI and CPI lag 3m", "0.784", "0.687"),
    (pts_lag12, "CPI lag 12m", "PPI and CPI lag 12m", "0.501", "0.358"),
]

W, H = 770, 707
dot_color = "#0c3a5f"
text_color = "#5a5a5a"
grid_color = "#7f7f7f"

plt.rcParams["font.family"] = ["Liberation Sans", "DejaVu Sans"]

fig = plt.figure(figsize=(W / 100, H / 100), dpi=100)

# left edge / bottom edge in pixels for each panel
lefts = [62, 447, 62, 447]
bottoms = [290, 290, 648, 648]
ax_w, ax_h = 304, 264
text_x = [75, 457, 75, 457]

for i, (pts, ylab, title, pear, spear) in enumerate(panels):
    l, b = lefts[i], bottoms[i]
    ax = fig.add_axes([l / W, 1 - b / H, ax_w / W, ax_h / H])
    xs = [p[0] for p in pts]
    ys = [p[1] for p in pts]
    ax.scatter(xs, ys, s=34, color=dot_color, linewidths=0, zorder=3, clip_on=False)

    ax.set_xlim(-11.6, 21.0)
    ax.set_ylim(-3.0, 15.3)
    ax.set_xticks([-10, -5, 0, 5, 10, 15, 20])
    ax.set_xticklabels(["-10", "-5", "0", "5", "10", "15", "20"])
    ax.set_yticks([-2.5, 0, 2.5, 5, 7.5, 10, 12.5, 15])
    ax.set_yticklabels(["-2.5", "0.0", "2.5", "5.0", "7.5", "10.0", "12.5", "15.0"])
    ax.yaxis.grid(True, color=grid_color, linewidth=1.1, zorder=0)
    ax.set_axisbelow(True)
    for s in ["top", "right", "left"]:
        ax.spines[s].set_visible(False)
    ax.spines["bottom"].set_color(grid_color)
    ax.spines["bottom"].set_linewidth(1.1)
    ax.tick_params(axis="both", length=0, labelsize=9, colors=text_color)
    ax.tick_params(axis="y", pad=4)
    ax.tick_params(axis="x", pad=9)
    ax.set_xlabel("PPI", fontsize=9, color=text_color, labelpad=9)

    top = b - ax_h  # pixel y of axes top
    fig.text((l - 47) / W, 1 - (top - 6) / H, ylab, rotation=90, ha="center", va="top",
             fontsize=9, color=text_color)
    lines = [title, "Pearson correlation: " + pear, "Spearman correlation: " + spear]
    for k, line in enumerate(lines):
        fig.text(text_x[i] / W, 1 - (top - 4 + 14 * k) / H, line, ha="left",
                 va="center", fontsize=9.3, color=text_color)

fig.savefig("out.png", dpi=100)
